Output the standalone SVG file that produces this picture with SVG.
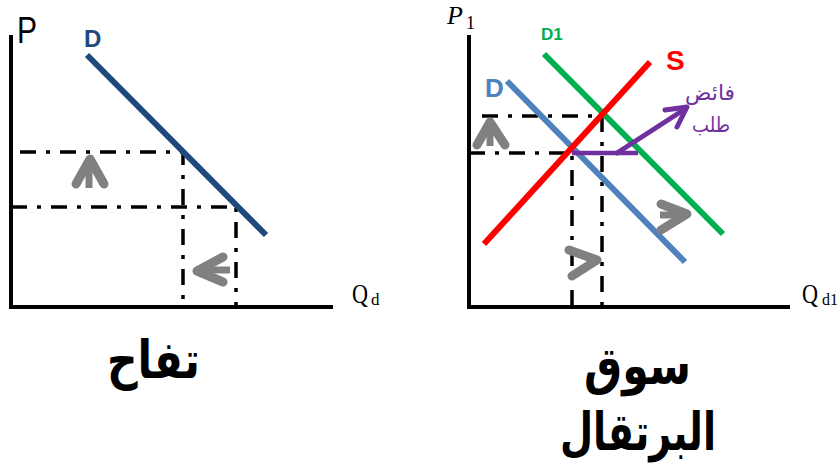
<svg xmlns="http://www.w3.org/2000/svg" width="839" height="465" viewBox="0 0 839 465">
<style>
.axis{stroke:#000;stroke-width:4;fill:none}
.dd{stroke:#000;stroke-width:3.5;fill:none;stroke-dasharray:16 10 4 10}
.curve{stroke-width:6;fill:none}
.garrow{stroke:#808080;fill:none;stroke-width:9;stroke-linecap:round;stroke-linejoin:round}
.gshaft{stroke:#808080;fill:none;stroke-width:7}
.lbl{font-family:"Liberation Sans",Arial,sans-serif}
.ser{font-family:"Liberation Serif","Times New Roman",serif}
.ar{font-family:"DejaVu Sans",sans-serif;font-weight:bold}
.pur{font-family:"DejaVu Sans",sans-serif;fill:#7030A0;font-size:21px}
</style>
<rect width="839" height="465" fill="#fff"/>
<g id="apple-chart">
  <line class="axis" x1="11" y1="35" x2="11" y2="309"/>
  <line class="axis" x1="9" y1="307" x2="333" y2="307"/>
  <text class="lbl" x="17" y="43" font-size="37" textLength="20" lengthAdjust="spacingAndGlyphs">P</text>
  <text class="ser" x="352" y="303" font-size="28" textLength="16" lengthAdjust="spacingAndGlyphs">Q</text>
  <text class="ser" x="371" y="305" font-size="17">d</text>
  <text class="lbl" x="84" y="47" font-size="24" font-weight="bold" fill="#1F497D">D</text>
</g>
<g id="apple-guides">
  <polyline class="dd" points="20,152 183,152 183,307"/>
  <polyline class="dd" points="11,207 236,207 236,307"/>
</g>
<g id="apple-demand">
  <line class="curve" stroke="#1F497D" x1="87" y1="55" x2="266" y2="235"/>
</g>
<g id="apple-arrows">
  <polyline class="garrow" points="76,184 90,159 104,184"/>
  <line class="gshaft" x1="89" y1="165" x2="89" y2="188"/>
  <polyline class="garrow" points="223,257 197,271 223,282"/>
  <line class="gshaft" x1="205" y1="270" x2="230" y2="270"/>
</g>
<g id="apple-title">
  <text class="ar" x="107" y="378" font-size="52" textLength="93" lengthAdjust="spacingAndGlyphs">تفاح</text>
</g>

<g id="orange-chart">
  <line class="axis" x1="469" y1="35" x2="469" y2="309"/>
  <line class="axis" x1="467" y1="307" x2="790" y2="307"/>
  <text class="ser" x="447" y="24" font-size="26" font-style="italic">P</text>
  <text class="ser" x="466" y="29" font-size="18">1</text>
  <text class="ser" x="802" y="303" font-size="28" textLength="16" lengthAdjust="spacingAndGlyphs">Q</text>
  <text class="ser" x="822" y="305" font-size="16">d1</text>
</g>
<g id="orange-guides">
  <polyline class="dd" points="482,116 602,116 602,307"/>
  <polyline class="dd" points="469,153 572,153 572,316"/>
</g>
<g id="orange-D1">
  <line class="curve" stroke="#00B050" x1="544" y1="54" x2="723" y2="234"/>
  <text class="lbl" x="541" y="40" font-size="17" font-weight="bold" fill="#00B050">D1</text>
</g>
<g id="orange-D">
  <line class="curve" stroke="#4F81BD" x1="507" y1="81" x2="685" y2="262"/>
  <text class="lbl" x="485" y="97" font-size="26" font-weight="bold" fill="#4F81BD">D</text>
</g>
<g id="orange-S">
  <line class="curve" stroke="#FF0000" stroke-width="7" x1="484" y1="244" x2="650" y2="62"/>
  <text class="lbl" x="666" y="70" font-size="28" font-weight="bold" fill="#FF0000">S</text>
</g>
<g id="orange-surplus">
  <line stroke="#7030A0" stroke-width="4.5" x1="572" y1="153" x2="638" y2="153"/>
  <line stroke="#7030A0" stroke-width="5" stroke-linecap="round" x1="617" y1="153" x2="685" y2="109"/>
  <polyline points="665,110 687,107 677,127" fill="none" stroke="#7030A0" stroke-width="5" stroke-linecap="round" stroke-linejoin="round"/>
  <text class="pur" x="685" y="100" textLength="50" lengthAdjust="spacingAndGlyphs">فائض</text>
  <text class="pur" x="692" y="132" textLength="38" lengthAdjust="spacingAndGlyphs">طلب</text>
</g>
<g id="orange-arrows">
  <polyline class="garrow" points="477,145 490,122 505,145"/>
  <line class="gshaft" x1="490" y1="130" x2="490" y2="146"/>
  <polyline class="garrow" points="661,204 687,214 661,230"/>
  <line class="gshaft" x1="660" y1="215" x2="678" y2="215"/>
  <polyline class="garrow" points="569,250 597,260 572,276"/>
</g>
<g id="orange-title">
  <text class="ar" x="584" y="384" font-size="52" textLength="107" lengthAdjust="spacingAndGlyphs">سوق</text>
  <text class="ar" x="560" y="450" font-size="52" textLength="156" lengthAdjust="spacingAndGlyphs">البرتقال</text>
</g>
</svg>
